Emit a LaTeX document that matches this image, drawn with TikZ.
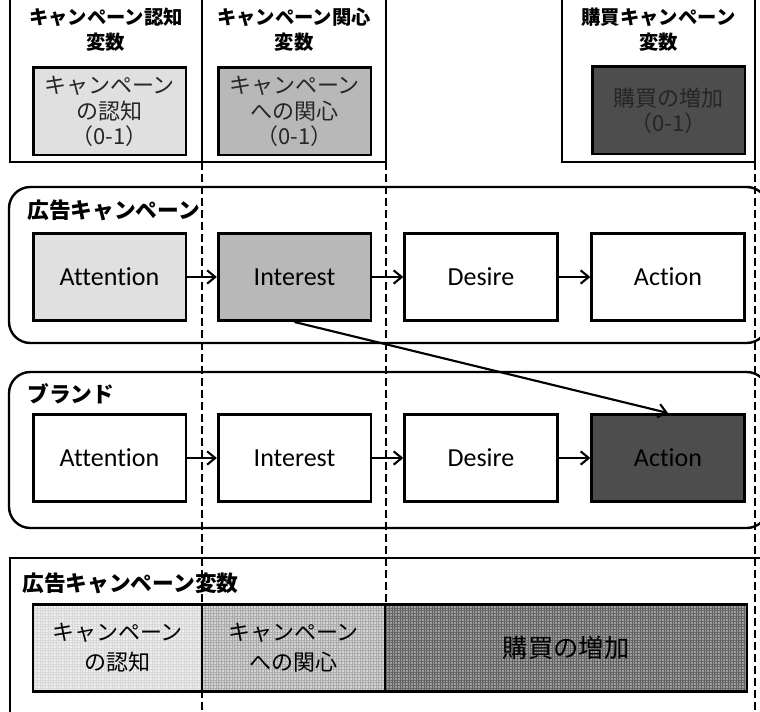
\documentclass[tikz,border=0pt]{standalone}
\usepackage{fontspec}
\setmainfont{Carlito}[Ligatures=NoCommon]
\newfontfamily\jp{Noto Sans CJK JP}
\usetikzlibrary{arrows.meta,patterns.meta}

\definecolor{attn}{HTML}{E0E0E0}
\definecolor{intr}{HTML}{B8B8B8}
\definecolor{actn}{HTML}{4D4D4D}

\begin{document}
\begin{tikzpicture}[x=0.75pt, y=-0.75pt,
  >={Straight Barb[length=6pt,width=10pt]},
  frame/.style={line width=1.8pt},
  stage/.style={draw, line width=2pt, fill=white, minimum width=114.5pt, minimum height=65.5pt, inner sep=0pt, font=\fontsize{19.5}{22}\selectfont},
  varbox/.style={stage, align=center, text=black!85, font=\jp\fontsize{16.5}{19}\selectfont},
  head/.style={align=center, inner sep=0pt, font=\jp\bfseries\fontsize{14.5}{18.75}\selectfont},
  group/.style={anchor=west, inner sep=0pt, font=\jp\bfseries\fontsize{16.3}{19}\selectfont},
  guide/.style={line width=1.5pt, dash pattern=on 6pt off 3pt},
  cell/.style={draw, line width=2pt, minimum height=65.5pt, inner sep=0pt, align=center, font=\jp\fontsize{16.5}{22.5}\selectfont}
]
\useasboundingbox (0,0) rectangle (760,712);
\clip (0,0) rectangle (760,712);

\draw[frame] (10,-5) rectangle (202,162);
\draw[frame] (202,-5) rectangle (386,162);
\draw[frame] (562,-5) rectangle (755,162);

\node[head] (hd1) at (106,30) {キャンペーン認知\\変数};
\node[head] (hd2) at (294,30) {キャンペーン関心\\変数};
\node[head] (hd3) at (658.5,30) {購買キャンペーン\\変数};

\node[varbox, fill=attn] (v1) at (109.5,111.5) {キャンペーン\\の認知\\（0-1）};
\node[varbox, fill=intr] (v2) at (294.5,111.5) {キャンペーン\\への関心\\（0-1）};
\node[varbox, fill=actn] (v3) at (668.5,110.5) {購買の増加\\（0-1）};

\draw[frame, rounded corners=16pt] (9,187) rectangle (768,343);
\node[group] (ad) at (27,210) {広告キャンペーン};
\draw (109.5,277) node[stage, fill=attn] (a1) {Attention};
\draw (294.5,277) node[stage, fill=intr] (i1) {Interest};
\draw (481,277) node[stage] (d1) {Desire};
\draw (668,277) node[stage] (ac1) {Action};

\draw[->, line width=1.6pt] (a1) -- (i1);
\draw[->, line width=1.6pt] (i1) -- (d1);
\draw[->, line width=1.6pt] (d1) -- (ac1);

\draw[frame, rounded corners=16pt] (9,372) rectangle (768,528);
\node[group] (brand) at (27,394) {ブランド};
\draw (109.5,458) node[stage] (a2) {Attention};
\draw (294.5,458) node[stage] (i2) {Interest};
\draw (481,458) node[stage] (d2) {Desire};
\draw (668,458) node[stage, fill=actn] (ac2) {Action};

\draw[->, line width=1.6pt] (a2) -- (i2);
\draw[->, line width=1.6pt] (i2) -- (d2);
\draw[->, line width=1.6pt] (d2) -- (ac2);

\draw[->, line width=1.6pt] (i1.south) -- (ac2.north);

\draw[frame] (10,558) rectangle (775,725);
\node[group] (advar) at (22,583) {広告キャンペーン変数};
\node[cell, minimum width=126.75pt, preaction={fill=black!6}, pattern={Hatch[distance=2pt,line width=0.4pt]}, pattern color=black!16] (c1) at (117.5,648) {キャンペーン\\の認知};
\node[cell, minimum width=137.25pt, preaction={fill=black!17}, pattern={Hatch[distance=2pt,line width=0.4pt]}, pattern color=black!34] (c2) at (293.5,648) {キャンペーン\\への関心};
\node[cell, minimum width=271.5pt, preaction={fill=black!38}, pattern={Hatch[distance=2pt,line width=0.4pt]}, pattern color=black!62, font=\jp\fontsize{19}{22}\selectfont] (c3) at (566,648) {購買の増加};

\draw[guide] (202,162) -- (202,712);
\draw[guide] (385.5,162) -- (385.5,603);
\draw[guide] (755,162) -- (755,712);

\end{tikzpicture}
\end{document}
